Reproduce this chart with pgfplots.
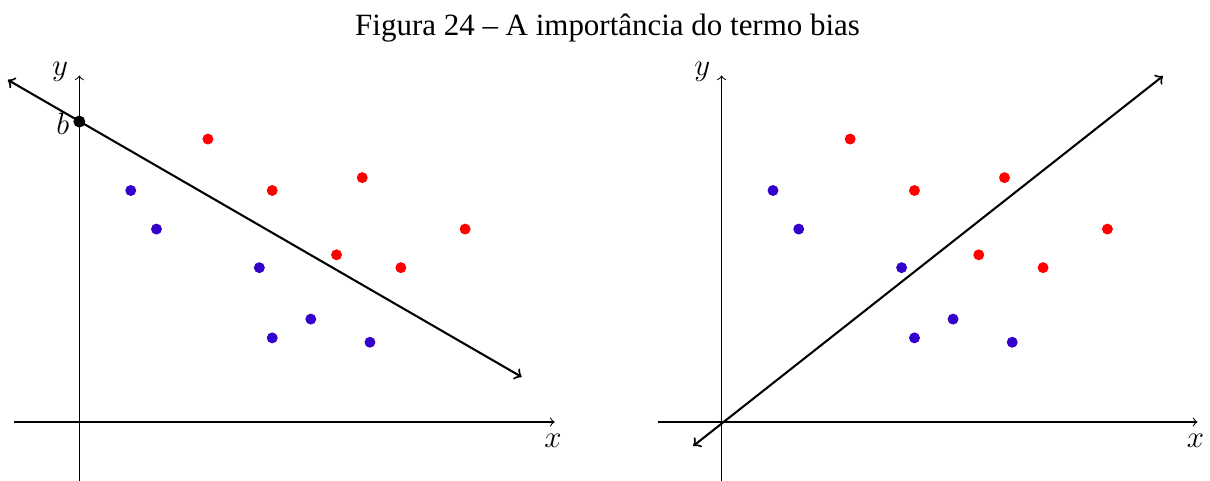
\documentclass[border=0pt]{standalone}
\usepackage{fontspec}
\setmainfont{Liberation Serif}
\usepackage{pgfplots}
\pgfplotsset{compat=1.18}
\definecolor{myblue}{rgb}{0.2,0,0.8}
\begin{document}
\begin{tikzpicture}[every node/.style={font=\fontsize{12}{14.4}\selectfont}]
\useasboundingbox (0,0) rectangle (469pt,-186.4pt);
\node at (235.5pt,-11pt) {Figura 24 – A importância do termo bias};
\pgfplotsset{myax/.style={hide axis, clip=false, x=9.97pt, y=9.97pt,
  xmin=-2.6, xmax=18.7, ymin=-2.4, ymax=13.6, anchor=origin}}
% left panel
\begin{axis}[myax, at={(30.74pt,-163.57pt)}]
\addplot[black, line width=0.4pt, ->] coordinates {(-2.54,0) (18.48,0)};
\addplot[black, line width=0.4pt, ->] coordinates {(0,-2.4) (0,13.47)};
\addplot[black, line width=0.8pt, <->] coordinates {(-2.78,13.3) (17.2,1.75)};
\addplot[only marks, mark=*, mark size=1.9pt, myblue] coordinates {
  (2,9) (3,7.5) (7,6) (7.5,3.27) (9,4) (11.3,3.1)};
\addplot[only marks, mark=*, mark size=1.9pt, red] coordinates {
  (5,11) (7.5,9) (11,9.5) (10,6.5) (12.5,6) (15,7.5)};
\addplot[only marks, mark=*, mark size=2.1pt, black] coordinates {(0,11.68)};
\node at (axis cs:18.42,-0.72) {$x$};
\node at (axis cs:-0.75,13.6) {$y$};
\node at (axis cs:-0.64,11.6) {$b$};
\end{axis}
% right panel
\begin{axis}[myax, at={(279.68pt,-163.57pt)}]
\addplot[black, line width=0.4pt, ->] coordinates {(-2.48,0) (18.5,0)};
\addplot[black, line width=0.4pt, ->] coordinates {(0,-2.4) (0,13.47)};
\addplot[black, line width=0.8pt, <->] coordinates {(-1.1,-0.93) (17.16,13.45)};
\addplot[only marks, mark=*, mark size=1.9pt, myblue] coordinates {
  (2,9) (3,7.5) (7,6) (7.5,3.27) (9,4) (11.3,3.1)};
\addplot[only marks, mark=*, mark size=1.9pt, red] coordinates {
  (5,11) (7.5,9) (11,9.5) (10,6.5) (12.5,6) (15,7.5)};
\node at (axis cs:18.42,-0.72) {$x$};
\node at (axis cs:-0.75,13.6) {$y$};
\end{axis}
\end{tikzpicture}
\end{document}
